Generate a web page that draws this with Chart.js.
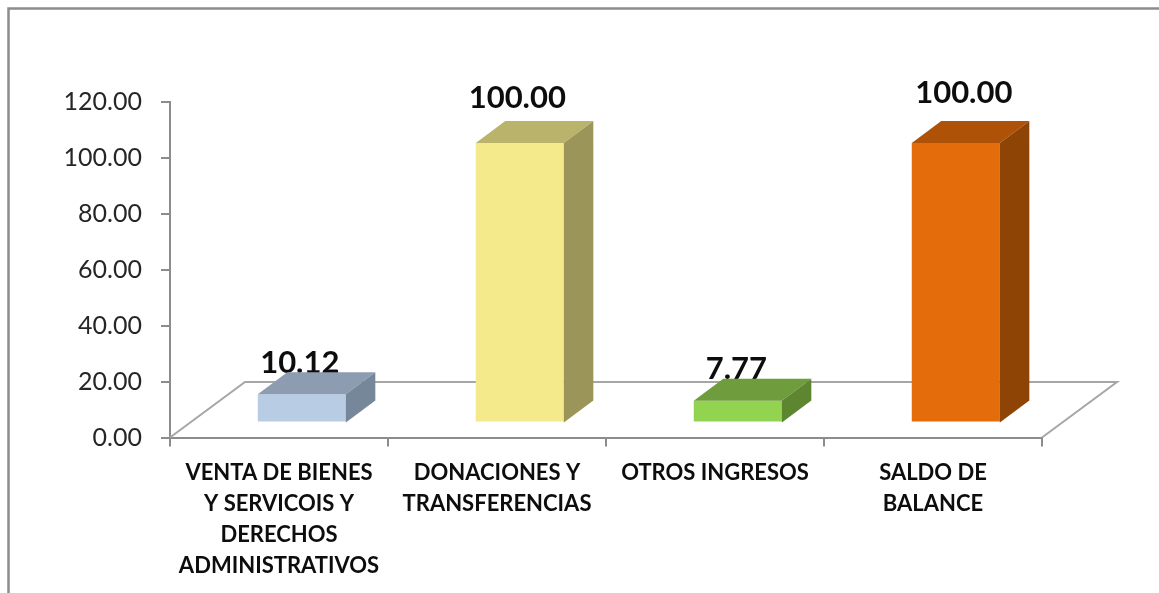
<!DOCTYPE html>
<html><head><meta charset="utf-8">
<style>html,body{margin:0;padding:0;background:#fff}#w{position:relative;width:1159px;height:593px}</style>
<script src="https://cdn.jsdelivr.net/npm/chart.js@4"></script>
</head><body><div id="w"><canvas id="c" width="1159" height="593"></canvas></div>
<script>
const categories = [
  ["VENTA DE BIENES","Y SERVICOIS Y","DERECHOS","ADMINISTRATIVOS"],
  ["DONACIONES Y","TRANSFERENCIAS"],
  ["OTROS INGRESOS"],
  ["SALDO DE","BALANCE"]
];
const values = [10.12, 100.00, 7.77, 100.00];
const frontColors = ["#b8cce4","#f4ea8c","#92d450","#e46c0a"];
const topColors   = ["#8d9cb0","#b9b36b","#6f9c3c","#ae5207"];
const sideColors  = ["#76879a","#9b9559","#5e8530","#8e4405"];
const labelNudge  = [[-2,-31.5],[-2.5,-44.5],[-1.5,-31.5],[8,-49.5]];
const FRONT = {x:22.8, y:-15};
const DEPTH = {x:29.5, y:-22};
const FLOOR = {x:75, y:-55.5};
const FONT = "Lato, sans-serif";

const scene = {
  id:"scene",
  beforeDraw(chart){
    const c = chart.ctx;
    c.save();
    c.strokeStyle="#8c8c8c"; c.lineWidth=2.5;
    c.beginPath(); c.moveTo(8.5,593); c.lineTo(8.5,8.5); c.lineTo(1159,8.5); c.stroke();
    c.restore();
  },
  beforeDatasetsDraw(chart){
    const c = chart.ctx, a = chart.chartArea;
    const y0 = chart.scales.y.getPixelForValue(0);
    c.save();
    c.strokeStyle="#a6a6a6"; c.lineWidth=2;
    c.beginPath();
    c.moveTo(a.left,y0); c.lineTo(a.left+FLOOR.x,y0+FLOOR.y);
    c.lineTo(a.right+FLOOR.x,y0+FLOOR.y); c.lineTo(a.right,y0);
    c.stroke();
    const bars = chart.getDatasetMeta(0).data;
    c.fillStyle="#0d0d0d"; c.textAlign="center"; c.textBaseline="middle";
    c.font="bold 31px "+FONT;
    bars.forEach((b,i)=>{
      c.fillText(values[i].toFixed(2), b.x+FRONT.x+labelNudge[i][0], b.y+FRONT.y+labelNudge[i][1]);
    });
    c.restore();
    // Front faces are drawn by Chart.js, moved onto the floor's front plane
    c.save();
    c.translate(FRONT.x,FRONT.y);
  },
  afterDatasetsDraw(chart){
    const c = chart.ctx;
    const y0 = chart.scales.y.getPixelForValue(0);
    chart.getDatasetMeta(0).data.forEach((b,i)=>{
      const L=b.x-b.width/2, R=b.x+b.width/2, T=b.y;
      c.fillStyle=topColors[i];
      c.beginPath(); c.moveTo(L,T); c.lineTo(L+DEPTH.x,T+DEPTH.y); c.lineTo(R+DEPTH.x,T+DEPTH.y); c.lineTo(R,T); c.closePath(); c.fill();
      c.fillStyle=sideColors[i];
      c.beginPath(); c.moveTo(R,T); c.lineTo(R+DEPTH.x,T+DEPTH.y); c.lineTo(R+DEPTH.x,y0+DEPTH.y); c.lineTo(R,y0); c.closePath(); c.fill();
    });
    c.restore();
  }
};

new Chart(document.getElementById("c"),{
  type:"bar",
  data:{labels:categories,datasets:[{data:values,backgroundColor:frontColors,barPercentage:0.404,categoryPercentage:1,clip:false}]},
  plugins:[scene],
  options:{
    responsive:false,animation:false,
    layout:{padding:{left:0,top:102,right:117,bottom:0}},
    plugins:{legend:{display:false},tooltip:{enabled:false}},
    scales:{
      x:{
        afterFit(s){s.height=155.5;},
        border:{color:"#8c8c8c",width:2},
        grid:{drawOnChartArea:false,color:"#8c8c8c",lineWidth:2,tickLength:9,offset:true},
        ticks:{color:"#0d0d0d",font:{family:FONT,size:22,weight:"bold",lineHeight:1.41},padding:11,maxRotation:0,autoSkip:false}
      },
      y:{
        min:0,max:120,
        afterFit(s){s.width=170;},
        border:{color:"#8c8c8c",width:2},
        grid:{drawOnChartArea:false,color:"#8c8c8c",lineWidth:2,tickLength:9},
        ticks:{stepSize:20,color:"#262626",font:{family:FONT,size:25},padding:19,callback:v=>v.toFixed(2)}
      }
    }
  }
});
</script></body></html>
